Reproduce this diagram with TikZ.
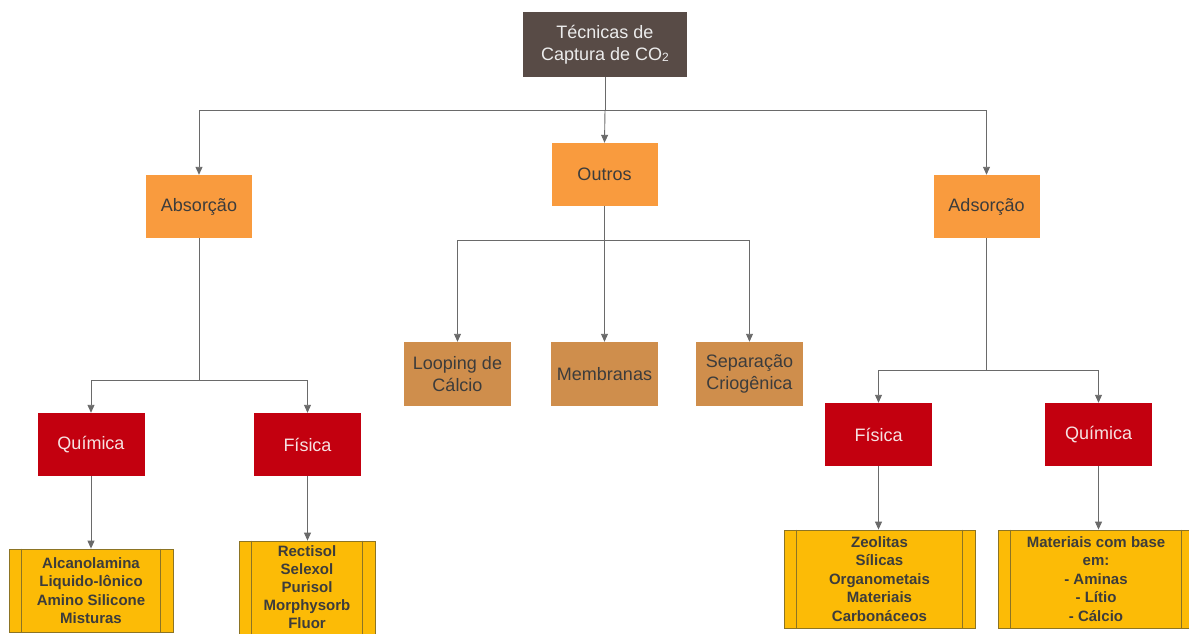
\documentclass[tikz,border=0pt]{standalone}
\usepackage{fontspec}
\setmainfont{Liberation Sans}
\usetikzlibrary{arrows.meta}
\definecolor{topbox}{HTML}{584B46}
\definecolor{toptext}{HTML}{ECECEC}
\definecolor{orangebox}{HTML}{F99B3E}
\definecolor{tanbox}{HTML}{CF8E4C}
\definecolor{redbox}{HTML}{C3000F}
\definecolor{redtext}{HTML}{F6E2E2}
\definecolor{goldbox}{HTML}{FCBB06}
\definecolor{goldline}{HTML}{8C7424}
\definecolor{darktext}{HTML}{3C3C3C}
\definecolor{connline}{HTML}{6A6A6A}
\tikzset{
  box/.style={inner sep=0pt, align=center, font=\fontsize{18}{22}\selectfont},
  rootbox/.style={box, fill=topbox, text=toptext, minimum width=164, minimum height=65},
  groupbox/.style={box, fill=orangebox, text=darktext, minimum width=106, minimum height=63},
  otherbox/.style={box, fill=tanbox, text=darktext, minimum width=107, minimum height=64},
  kindbox/.style={box, fill=redbox, text=redtext, minimum width=107, minimum height=63},
  listbox/.style={inner sep=0pt, align=center, fill=goldbox, draw=goldline, line width=0.8pt,
    text=darktext, font=\fontsize{15}{18.5}\selectfont\bfseries},
  conn/.style={draw=connline, line width=0.9pt},
  arr/.style={conn, -{Triangle[length=8pt, width=7pt]}},
}
\begin{document}
\begin{tikzpicture}[x=1pt, y=-1pt]
\useasboundingbox (0,0) rectangle (1189,634);
\clip (0,0) rectangle (1189,634);

% root and first level
\node[rootbox] (root) at (605,44.5) {Técnicas de\\Captura de CO\raisebox{-1pt}{\fontsize{12}{12}\selectfont 2}};
\node[groupbox] (abs) at (199,206.5) {Absorção};
\node[groupbox] (out) at (604.5,174.5) {Outros};
\node[groupbox] (ads) at (986.5,206.5) {Adsorção};

% other techniques
\node[otherbox] (loop) at (457.5,374) {Looping de\\Cálcio};
\node[otherbox] (memb) at (604.5,374) {Membranas};
\node[otherbox] (crio) at (749.5,374) {Separação\\Criogênica};

% chemical / physical branches
\node[kindbox] (absq) at (91,444.5) {Química};
\node[kindbox] (absf) at (307.5,444.5) {Física};
\node[kindbox] (adsf) at (878.5,434.5) {Física};
\node[kindbox] (adsq) at (1098.5,434.5) {Química};

% material lists
\node[listbox, minimum width=164, minimum height=83] (l1) at (91,590.5)
  {Alcanolamina\\Liquido-lônico\\Amino Silicone\\Misturas};
\node[listbox, minimum width=136, minimum height=100] (l2) at (307,591) {};
\node[listbox, draw=none, fill=none, font=\fontsize{15}{18}\selectfont\bfseries] (l2t) at (307,587)
  {Rectisol\\Selexol\\Purisol\\Morphysorb\\Fluor};
\node[listbox, minimum width=191, minimum height=98] (l3) at (879.5,579)
  {Zeolitas\\Sílicas\\Organometais\\Materiais\\Carbonáceos};
\node[listbox, minimum width=196, minimum height=98] (l4) at (1096,579)
  {Materiais com base\\em:\\- Aminas\\- Lítio\\- Cálcio};
\foreach \b in {l1,l2,l3,l4}{
  \draw[goldline, line width=0.8pt] ([xshift=13]\b.north west) -- ([xshift=13]\b.south west);
  \draw[goldline, line width=0.8pt] ([xshift=-13]\b.north east) -- ([xshift=-13]\b.south east);
}

% junctions
\coordinate (j0) at (605,110);
\coordinate (j1) at (199,380);
\coordinate (j2) at (604.5,240);
\coordinate (j3) at (986.5,370);

% connectors
\draw[conn] (root.south) -- (j0);
\draw[arr] (j0) -| (abs.north);
\draw[arr] (j0) -| (ads.north);
\draw[arr] (j0) -- (out.north);

\draw[conn] (out.south) -- (j2);
\draw[arr] (j2) -| (loop.north);
\draw[arr] (j2) -- (memb.north);
\draw[arr] (j2) -| (crio.north);

\draw[conn] (abs.south) -- (j1);
\draw[arr] (j1) -| (absq.north);
\draw[arr] (j1) -| (absf.north);

\draw[conn] (ads.south) -- (j3);
\draw[arr] (j3) -| (adsf.north);
\draw[arr] (j3) -| (adsq.north);

\draw[arr] (absq.south) -- (absq.south |- l1.north);
\draw[arr] (absf.south) -- (absf.south |- l2.north);
\draw[arr] (adsf.south) -- (adsf.south |- l3.north);
\draw[arr] (adsq.south) -- (adsq.south |- l4.north);
\end{tikzpicture}
\end{document}
